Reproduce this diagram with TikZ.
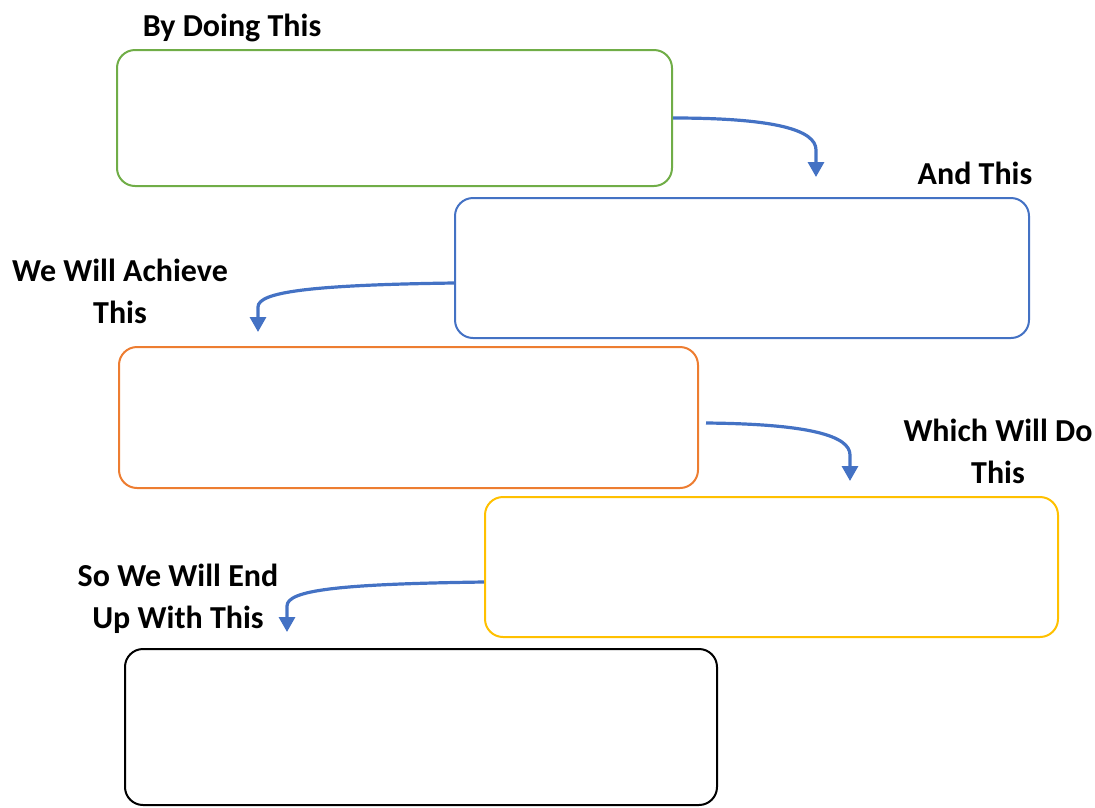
\documentclass[tikz,border=0pt]{standalone}
\usepackage{fontspec}
\setmainfont{Carlito}
\usetikzlibrary{arrows.meta}
\definecolor{cgreen}{HTML}{70AD47}
\definecolor{cblue}{HTML}{4472C4}
\definecolor{corange}{HTML}{ED7D31}
\definecolor{cyellow}{HTML}{FFC000}
\begin{document}
\begin{tikzpicture}[x=1pt,y=-1pt,
  box/.style={draw, rectangle, rounded corners=18pt, line width=2pt, inner sep=0pt},
  lab/.style={font=\fontsize{32}{42}\selectfont\bfseries, align=center, inner sep=0pt},
  conn/.style={draw=cblue, line width=3.2pt, -{Triangle[width=16pt,length=15pt]}}]
\useasboundingbox (0,0) rectangle (1095,807);
\node[box, draw=cgreen, minimum width=555pt, minimum height=136pt] (b1) at (394.5,118) {};
\node[box, draw=cblue, minimum width=574pt, minimum height=140pt] (b2) at (742,268) {};
\node[box, draw=corange, minimum width=579pt, minimum height=141pt] (b3) at (408.5,417.5) {};
\node[box, draw=cyellow, minimum width=573pt, minimum height=140pt] (b4) at (771.5,567) {};
\node[box, draw=black, minimum width=592pt, minimum height=156pt] (b5) at (421,727) {};
\node[lab] (l1) at (232,28) {By Doing This};
\node[lab] (l2) at (975,173) {And This};
\node[lab] (l3) at (120,291) {We Will Achieve\\This};
\node[lab] (l4) at (998,451) {Which Will Do\\This};
\node[lab] (l5) at (178,599) {So We Will End\\Up With This};
\coordinate (t1) at (816,177);
\coordinate (t2) at (258,332);
\coordinate (t3) at (850,481);
\coordinate (t4) at (287,632);
\draw[conn] (b1.east) .. controls (775,118) and (816,130) .. (816,150) -- (t1);
\draw[conn] ([yshift=-15pt]b2.west) .. controls (310,285) and (258,292) .. (258,307) -- (t2);
\draw[conn] ([shift={(7pt,-5.5pt)}]b3.east) .. controls (810,424) and (850,436) .. (850,455) -- (t3);
\draw[conn] ([yshift=-15pt]b4.west) .. controls (340,584) and (287,590) .. (287,606) -- (t4);
\end{tikzpicture}
\end{document}
